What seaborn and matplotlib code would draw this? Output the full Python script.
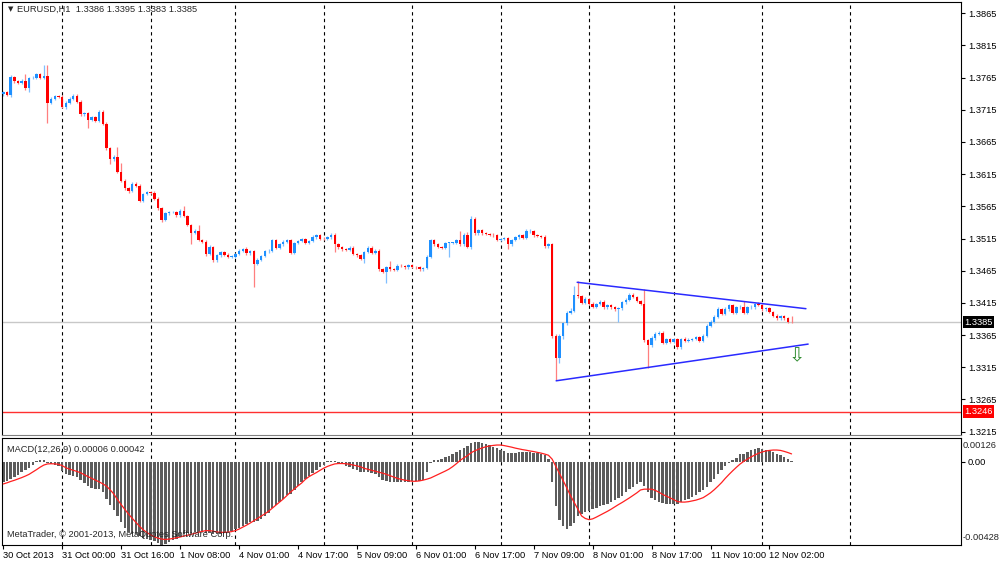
import numpy as np
import pandas as pd
import matplotlib
matplotlib.use("Agg")
import matplotlib.pyplot as plt
import matplotlib.transforms as mtransforms
import seaborn as sns

sns.set_theme(style="white")
plt.rcParams['font.family'] = ['Liberation Sans', 'DejaVu Sans']

# EURUSD H1 closes, one per bar from 30 Oct 2013 08:00
closes = [
    1.3742, 1.3738, 1.3766, 1.3759, 1.3757, 1.3759, 1.3748, 1.3764, 1.3765, 1.3770,
    1.3764, 1.3767, 1.3726, 1.3732, 1.3736, 1.3735, 1.3720, 1.3726, 1.3732, 1.3737,
    1.3727, 1.3708, 1.3710, 1.3699, 1.3703, 1.3698, 1.3712, 1.3693, 1.3655, 1.3638,
    1.3642, 1.3619, 1.3605, 1.3593, 1.3589, 1.3600, 1.3597, 1.3574, 1.3584, 1.3587,
    1.3586, 1.3577, 1.3562, 1.3544, 1.3554, 1.3556, 1.3556, 1.3551, 1.3558, 1.3550,
    1.3536, 1.3524, 1.3527, 1.3513, 1.3510, 1.3491, 1.3502, 1.3481, 1.3489, 1.3494,
    1.3490, 1.3487, 1.3487, 1.3491, 1.3496, 1.3498, 1.3492, 1.3495, 1.3476, 1.3482,
    1.3488, 1.3495, 1.3496, 1.3512, 1.3500, 1.3506, 1.3510, 1.3512, 1.3493, 1.3508,
    1.3511, 1.3514, 1.3508, 1.3511, 1.3517, 1.3520, 1.3515, 1.3514, 1.3517, 1.3520,
    1.3506, 1.3502, 1.3498, 1.3497, 1.3501, 1.3491, 1.3489, 1.3483, 1.3494, 1.3501,
    1.3493, 1.3496, 1.3467, 1.3463, 1.3470, 1.3467, 1.3466, 1.3473, 1.3472, 1.3470,
    1.3474, 1.3471, 1.3470, 1.3467, 1.3469, 1.3487, 1.3512, 1.3506, 1.3502, 1.3500,
    1.3508, 1.3508, 1.3508, 1.3512, 1.3506, 1.3520, 1.3502, 1.3546, 1.3523, 1.3528,
    1.3523, 1.3522, 1.3521, 1.3520, 1.3513, 1.3514, 1.3516, 1.3506, 1.3513, 1.3517,
    1.3520, 1.3516, 1.3526, 1.3526, 1.3520, 1.3519, 1.3518, 1.3503, 1.3506, 1.3364,
    1.3329, 1.3364, 1.3383, 1.3400, 1.3403, 1.3427, 1.3425, 1.3415, 1.3421, 1.3414,
    1.3409, 1.3413, 1.3417, 1.3408, 1.3412, 1.3408, 1.3406, 1.3407, 1.3416, 1.3420,
    1.3428, 1.3424, 1.3418, 1.3413, 1.3357, 1.3350, 1.3360, 1.3367, 1.3369, 1.3353,
    1.3359, 1.3354, 1.3359, 1.3346, 1.3359, 1.3356, 1.3358, 1.3359, 1.3362, 1.3356,
    1.3364, 1.3379, 1.3385, 1.3393, 1.3405, 1.3398, 1.3405, 1.3411, 1.3400, 1.3408,
    1.3409, 1.3400, 1.3408, 1.3408, 1.3413, 1.3412, 1.3405, 1.3407, 1.3401, 1.3395,
    1.3391, 1.3394, 1.3391, 1.3386, 1.3385,
]
first_open = 1.3740

# wick lengths above / below the body, in pips
wick_up = [
    2, 2, 3, 2, 2, 3, 12, 2, 3, 2,   2, 18, 17, 2, 2, 2, 3, 2, 2, 2,
    3, 3, 2, 2, 2, 3, 2, 3, 3, 2,    3, 15, 14, 2, 2, 3, 2, 3, 2, 2,
    2, 2, 3, 2, 2, 2, 2, 2, 3, 8,    2, 2, 2, 9, 2, 2, 3, 2, 2, 2,
    2, 2, 2, 2, 2, 2, 4, 2, 2, 2,    2, 2, 3, 2, 3, 2, 2, 2, 3, 2,
    2, 2, 2, 2, 3, 2, 2, 2, 2, 3,    3, 2, 2, 2, 2, 2, 2, 2, 2, 3,
    2, 2, 2, 2, 2, 10, 2, 2, 2, 2,   2, 2, 2, 2, 2, 2, 3, 3, 2, 2,
    2, 2, 2, 2, 15, 3, 5, 4, 3, 2,   2, 2, 2, 2, 2, 2, 2, 2, 2, 2,
    2, 2, 3, 3, 2, 2, 2, 2, 2, 2,    2, 2, 3, 3, 4, 14, 22, 2, 3, 2,
    2, 2, 3, 2, 2, 2, 2, 2, 2, 3,    3, 2, 2, 2, 23, 2, 3, 3, 3, 2,
    2, 2, 2, 2, 2, 3, 2, 2, 2, 2,    2, 3, 3, 3, 4, 2, 3, 3, 2, 2,
    2, 9, 2, 3, 2, 3, 2, 2, 2, 2,    2, 2, 2, 2, 9,
]
wick_dn = [
    3, 2, 3, 2, 2, 2, 3, 6, 2, 2,    2, 2, 31, 2, 2, 2, 3, 4, 2, 2,
    2, 2, 2, 13, 2, 2, 2, 2, 2, 7,   2, 2, 3, 3, 4, 2, 2, 2, 2, 2,
    2, 2, 2, 3, 2, 2, 2, 2, 2, 2,    2, 18, 2, 2, 2, 3, 2, 3, 2, 2,
    2, 2, 2, 2, 2, 2, 2, 2, 37, 2,   2, 2, 3, 2, 2, 2, 2, 2, 2, 2,
    2, 2, 2, 2, 2, 2, 2, 2, 2, 2,    12, 3, 2, 2, 2, 2, 2, 2, 6, 2,
    2, 2, 3, 2, 17, 2, 2, 2, 2, 2,   2, 2, 2, 2, 2, 2, 2, 2, 2, 2,
    2, 22, 2, 2, 2, 2, 2, 3, 2, 2,   2, 2, 2, 2, 2, 2, 2, 8, 2, 2,
    2, 2, 2, 2, 2, 2, 2, 2, 2, 3,    33, 8, 5, 3, 2, 2, 2, 2, 2, 2,
    2, 2, 2, 2, 2, 2, 3, 21, 3, 2,   2, 2, 2, 2, 2, 36, 3, 2, 2, 2,
    2, 2, 2, 3, 2, 2, 2, 2, 2, 2,    2, 2, 2, 2, 2, 2, 2, 2, 2, 2,
    2, 2, 2, 2, 2, 2, 2, 2, 2, 2,    2, 2, 2, 2, 2,
]

# MACD(12,26,9) main (histogram) and signal, in units of 0.0001
macd_main = [
    -10.6, -9.7, -8.8, -7.6, -6.5, -5.3, -4.4, -3.2, -1.8, 0.5,
    1.0, 1.2, -0.5, -1.0, -1.5, -2.0, -4.5, -6.0, -7.0, -7.5,
    -8.0, -9.5, -11.0, -12.5, -13.5, -14.0, -14.0, -15.5, -19.0, -22.5,
    -25.0, -28.0, -31.0, -34.0, -36.5, -37.5, -37.5, -38.5, -39.5, -40.0,
    -40.5, -41.0, -42.0, -42.8, -42.5, -41.5, -40.5, -40.0, -38.5, -37.5,
    -37.0, -37.0, -36.5, -36.5, -36.5, -37.0, -37.0, -37.5, -37.5, -37.5,
    -37.0, -36.5, -36.0, -35.0, -34.0, -33.0, -32.0, -31.0, -31.0, -30.5,
    -29.5, -28.0, -26.5, -24.0, -22.5, -21.0, -19.0, -17.0, -16.5, -14.5,
    -12.5, -10.5, -9.0, -7.5, -5.5, -4.0, -2.5, -1.5, 0.3, 0.6,
    0.3, -0.5, -1.2, -2.0, -2.5, -3.5, -4.0, -5.0, -5.0, -5.0,
    -5.5, -6.0, -8.0, -9.5, -10.0, -10.5, -10.5, -10.5, -10.5, -10.5,
    -10.5, -10.0, -10.0, -10.0, -9.5, -5.0, -0.5, 1.0, 1.0, 1.5,
    2.5, 3.0, 4.0, 5.0, 6.0, 7.0, 8.5, 10.0, 10.5, 10.5,
    10.0, 9.5, 9.0, 8.0, 7.0, 6.3, 5.5, 4.8, 4.8, 4.8,
    5.0, 5.0, 5.0, 5.0, 4.8, 4.5, 4.0, 3.5, 1.5, -10.6,
    -22.9, -29.9, -33.4, -34.7, -33.4, -31.7, -28.1, -26.9, -25.9, -25.2,
    -24.5, -23.7, -23.0, -22.3, -21.6, -20.8, -19.9, -18.8, -17.6, -15.8,
    -14.1, -12.8, -11.4, -10.6, -12.3, -15.8, -18.5, -19.9, -20.6, -21.1,
    -21.6, -22.0, -22.0, -21.6, -20.6, -19.9, -19.0, -18.1, -17.1, -15.8,
    -14.6, -12.8, -10.6, -8.8, -6.2, -4.4, -2.3, -0.5, 0.9, 2.3,
    3.9, 4.4, 5.3, 6.2, 6.7, 7.0, 6.5, 6.2, 5.8, 5.3,
    4.4, 3.5, 2.6, 1.8, 0.6,
]
macd_signal = [
    -11.4, -10.8, -10.1, -9.5, -8.8, -8.1, -7.3, -6.4, -5.2, -4.0,
    -2.7, -1.6, -1.0, -0.9, -1.0, -1.2, -1.9, -3.0, -3.7, -4.3,
    -4.9, -5.6, -6.6, -7.6, -8.5, -9.4, -10.3, -11.3, -12.5, -14.4,
    -16.6, -19.5, -22.1, -24.6, -27.0, -29.2, -31.3, -33.4, -35.2, -36.6,
    -37.8, -38.8, -39.5, -40.0, -40.2, -40.0, -39.7, -39.3, -38.9, -38.4,
    -38.0, -37.5, -37.0, -36.5, -36.0, -35.6, -35.6, -35.9, -36.3, -36.5,
    -36.5, -36.4, -36.1, -35.6, -34.8, -33.8, -32.8, -31.7, -30.5, -29.3,
    -28.1, -26.9, -25.6, -24.0, -22.4, -20.8, -19.2, -17.4, -15.6, -14.0,
    -12.4, -10.9, -9.0, -7.6, -6.5, -5.5, -4.3, -3.2, -2.3, -1.6,
    -1.0, -0.8, -0.8, -0.9, -1.2, -1.6, -2.0, -2.5, -3.3, -3.8,
    -4.3, -4.8, -5.3, -5.8, -6.4, -7.1, -7.8, -8.5, -9.0, -9.4,
    -9.7, -10.0, -10.0, -9.8, -9.4, -8.9, -8.3, -7.4, -6.5, -5.6,
    -4.7, -3.7, -2.4, -0.9, 0.8, 2.1, 3.3, 4.8, 5.8, 6.6,
    7.3, 7.9, 8.3, 8.6, 8.8, 8.8, 8.5, 8.1, 7.7, 7.2,
    6.8, 6.4, 6.1, 5.7, 5.4, 5.0, 4.6, 4.1, 3.5, 1.5,
    -2.2, -6.0, -9.7, -13.5, -17.5, -21.0, -24.5, -28.0, -29.3, -29.9,
    -29.5, -28.6, -27.6, -26.6, -25.6, -24.5, -23.3, -22.1, -21.0, -19.8,
    -18.6, -17.3, -16.0, -14.5, -14.1, -14.1, -14.1, -14.7, -15.7, -16.8,
    -17.7, -18.6, -19.5, -20.5, -20.8, -20.8, -20.6, -20.2, -19.8, -19.2,
    -18.5, -17.3, -16.0, -14.4, -12.6, -10.7, -8.5, -6.5, -4.6, -2.8,
    -1.1, 0.3, 1.5, 2.6, 3.6, 4.5, 5.2, 5.7, 6.0, 6.2,
    6.2, 6.0, 5.5, 4.9, 4.2,
]

# time axis labels every 16 bars, day separators
date_labels = ["30 Oct 2013", "31 Oct 00:00", "31 Oct 16:00", "1 Nov 08:00", "4 Nov 01:00",
               "4 Nov 17:00", "5 Nov 09:00", "6 Nov 01:00", "6 Nov 17:00", "7 Nov 09:00",
               "8 Nov 01:00", "8 Nov 17:00", "11 Nov 10:00", "12 Nov 02:00"]
label_bars = [0, 16, 32, 48, 64, 80, 96, 112, 128, 144, 160, 176, 192, 208]
day_bars = [16, 40, 63, 87, 111, 135, 159, 182, 206, 230]

# triangle trend lines (bar index, price)
upper_x, upper_y = [155.8, 217.9], [1.3447, 1.3406]
lower_x, lower_y = [150.1, 218.5], [1.3294, 1.3351]
support_level = 1.3246
bid_price = 1.3385
macd_max, macd_min = 0.00126, -0.00428

pip = 0.0001
n = len(closes)
idx = np.arange(n)
c = np.array(closes)
o = np.array([first_open] + closes[:-1])
hi = np.maximum(o, c) + np.array(wick_up) * pip
lo = np.minimum(o, c) - np.array(wick_dn) * pip
bull = c >= o

W, H = 1000, 561
fig = plt.figure(figsize=(W / 100, H / 100), dpi=100)
ax = fig.add_axes([2 / W, 1 - 434.5 / H, 959 / W, 432.5 / H])
axm = fig.add_axes([2 / W, 1 - 544.5 / H, 959 / W, 106.8 / H])

xlim = (-0.35, 260.0)
fs = 6.7
dash = (0, (3, 3))

# ---- price panel ----
for b in day_bars:
    ax.axvline(b, color="black", lw=0.8, ls=dash, zorder=0.5)
    axm.axvline(b, color="black", lw=0.8, ls=dash, zorder=0.5)

ax.axhline(bid_price, color="#c8c8c8", lw=1.0, zorder=0.8)
ax.axhline(support_level, color="#ff3030", lw=1.0, zorder=0.8)

wick_cols = np.where(bull, "#7fbfff", "#ff7f7f")
body_cols = np.where(bull, "#1e90ff", "#ff0000")
ax.vlines(idx, lo, hi, colors=wick_cols, lw=0.9, zorder=2)
body_h = np.maximum(np.abs(c - o), 0.00009)
ax.bar(idx, body_h, bottom=np.minimum(o, c), width=0.66, color=body_cols,
       linewidth=0, zorder=3)

ax.plot(upper_x, upper_y, color="#2a2aff", lw=1.1, zorder=4)
ax.plot(lower_x, lower_y, color="#2a2aff", lw=1.1, zorder=4)
ax.text(215.5, 1.33325, "\u21e9", color="#2e8b2e", fontsize=14, ha="center",
        va="center", family=["DejaVu Sans"], zorder=5)

ax.set_xlim(*xlim)
ax.set_ylim(1.32106, 1.38823)
ax.set_xticks([])
ax.yaxis.tick_right()
price_ticks = np.arange(1.3215, 1.3866, 0.005)
ax.set_yticks(price_ticks)
ax.set_yticklabels([f"{t:.4f}" for t in price_ticks])
ax.tick_params(axis="y", direction="out", length=3, width=0.8, pad=2,
               labelsize=fs, colors="black", right=True)

tr = mtransforms.blended_transform_factory(ax.transAxes, ax.transData)
ax.text(1.0035, bid_price, f"{bid_price:.4f}", transform=tr, color="white", fontsize=fs,
        va="center", ha="left", bbox=dict(fc="black", ec="none", pad=1.3), zorder=6)
ax.text(1.0035, support_level, f"{support_level:.4f}", transform=tr, color="white",
        fontsize=fs, va="center", ha="left", bbox=dict(fc="#ff0000", ec="none", pad=1.3),
        zorder=6)

ax.text(0.006, 0.984, "\u25bc", transform=ax.transAxes, fontsize=5, va="center",
        ha="left", family=["DejaVu Sans"])
ax.text(0.016, 0.984, "EURUSD,H1  1.3386 1.3395 1.3383 1.3385", transform=ax.transAxes,
        fontsize=fs, va="center", ha="left")

# ---- MACD panel ----
macd = pd.DataFrame({"bar": idx, "main": np.array(macd_main) * pip,
                     "signal": np.array(macd_signal) * pip})
sns.barplot(data=macd, x="bar", y="main", native_scale=True, width=0.66,
            color="#5c5c5c", saturation=1, linewidth=0, ax=axm, zorder=2)
sns.lineplot(data=macd, x="bar", y="signal", color="#ff2020", lw=0.9, ax=axm, zorder=3)

axm.set_xlim(*xlim)
axm.set_ylim(macd_min, macd_max)
axm.set_xlabel("")
axm.set_ylabel("")
axm.yaxis.tick_right()
axm.set_yticks([0.0])
axm.set_yticklabels(["0.00"])
axm.tick_params(axis="y", direction="out", length=3, width=0.8, pad=2,
                labelsize=fs, colors="black", right=True)
trm = mtransforms.blended_transform_factory(axm.transAxes, axm.transData)
off_top = mtransforms.offset_copy(trm, fig=fig, x=0, y=-2.5, units="points")
off_bot = mtransforms.offset_copy(trm, fig=fig, x=0, y=1.5, units="points")
axm.text(1.002, macd_max, f"{macd_max:.5f}", transform=off_top, fontsize=fs,
         va="top", ha="left", clip_on=False)
axm.text(1.0015, macd_min, f"{macd_min:.5f}", transform=off_bot, fontsize=fs,
         va="bottom", ha="left", clip_on=False)

axm.set_xticks(label_bars)
axm.set_xticklabels(date_labels)
axm.tick_params(axis="x", direction="out", length=3, width=0.8, pad=1.5,
                labelsize=fs, colors="black", bottom=True)
for lab in axm.get_xticklabels():
    lab.set_ha("left")

axm.text(0.005, 0.93, "MACD(12,26,9) 0.00006 0.00042", transform=axm.transAxes,
         fontsize=fs, va="top", ha="left")
axm.text(0.005, 0.05, "MetaTrader, \u00a9 2001-2013, MetaQuotes Software Corp.",
         transform=axm.transAxes, fontsize=fs, va="bottom", ha="left", zorder=5)

for a in (ax, axm):
    a.set_facecolor("white")
    for s in a.spines.values():
        s.set_color("black")
        s.set_linewidth(0.8)
        s.set_visible(True)
ax.spines["bottom"].set_color("#808080")

fig.savefig("out.png", dpi=100, facecolor="white")
